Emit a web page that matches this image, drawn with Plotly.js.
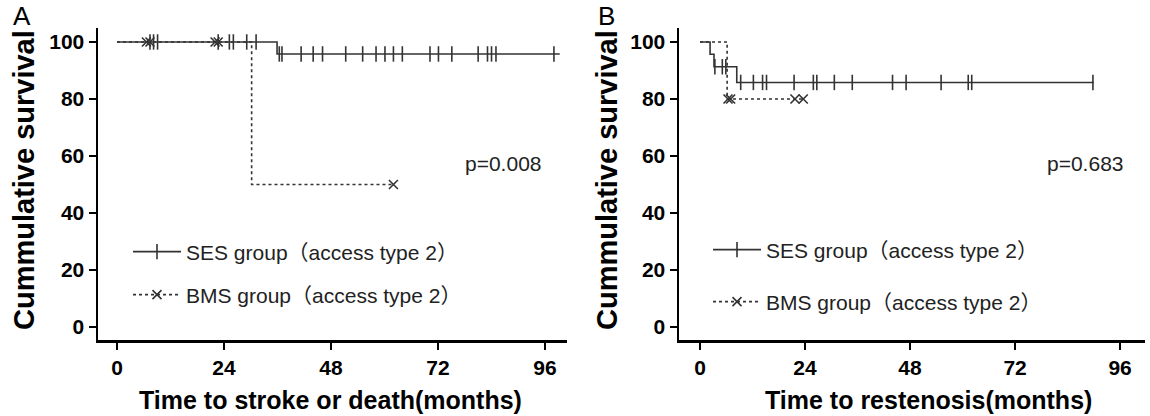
<!DOCTYPE html>
<html>
<head>
<meta charset="utf-8">
<script src="https://cdn.plot.ly/plotly-3.0.1.min.js"></script>
<style>html,body{margin:0;padding:0;background:#fff;}#chart{width:1150px;height:416px;}</style>
</head>
<body>
<div id="chart"></div>
<script>
// ---------- Data ----------
// Panel A: Time to stroke or death (months)
const A_SES_time = [0, 35.9, 99.3];
const A_SES_surv = [100, 95.8, 95.8];
const A_SES_censor_time = [7.4, 8.2, 9.1, 22.7, 25.2, 26.1, 29.1, 31.2,
  36.4, 37.0, 41.3, 44.0, 46.1, 51.3, 55.1, 58.1, 60.1, 62.0, 64.0, 70.2, 72.1, 75.1, 81.0, 83.1, 84.0, 85.0, 98.0];
const A_SES_censor_surv = [100, 100, 100, 100, 100, 100, 100, 100,
  95.8, 95.8, 95.8, 95.8, 95.8, 95.8, 95.8, 95.8, 95.8, 95.8, 95.8, 95.8, 95.8, 95.8, 95.8, 95.8, 95.8, 95.8, 95.8];
const A_BMS_time = [0, 30.2, 62.0];
const A_BMS_surv = [100, 50, 50];
const A_BMS_censor_time = [6.6, 7.4, 22.0, 22.7, 62.0];
const A_BMS_censor_surv = [100, 100, 100, 100, 50];

// Panel B: Time to restenosis (months)
const B_SES_time = [0, 2.3, 3.2, 8.4, 90.0];
const B_SES_surv = [100, 95.7, 91.3, 85.8, 85.8];
const B_SES_censor_time = [3.4, 5.1, 5.9, 9.3, 12.2, 14.3, 15.2, 21.5, 25.9, 26.7, 30.7, 34.8, 44.0, 47.1, 55.1, 61.3, 62.1, 89.8];
const B_SES_censor_surv = [91.3, 91.3, 91.3, 85.8, 85.8, 85.8, 85.8, 85.8, 85.8, 85.8, 85.8, 85.8, 85.8, 85.8, 85.8, 85.8, 85.8, 85.8];
const B_BMS_time = [0, 6.2, 23.6];
const B_BMS_surv = [100, 80, 80];
const B_BMS_censor_time = [6.4, 7.0, 21.7, 23.6];
const B_BMS_censor_surv = [80, 80, 80, 80];

const xTicks = [0, 24, 48, 72, 96];
const yTicks = [0, 20, 40, 60, 80, 100];
const sesName = 'SES group（access type 2）';
const bmsName = 'BMS group（access type 2）';
const pA = 'p=0.008';
const pB = 'p=0.683';

// ---------- Styling ----------
const W = 1150, H = 416;
const FONT = 'Arial, "Liberation Sans", "Noto Sans CJK SC", sans-serif';
const curveColor = '#333333';
const px = v => v / W;
const py = v => 1 - v / H;

function curve(x, y, xa, ya, dash) {
  return {x, y, xaxis: xa, yaxis: ya, type: 'scatter', mode: 'lines',
    line: {shape: 'hv', color: curveColor, width: 1.6, dash: dash},
    showlegend: false, hoverinfo: 'skip'};
}
function censors(x, y, xa, ya, sym, size) {
  return {x, y, xaxis: xa, yaxis: ya, type: 'scatter', mode: 'markers',
    marker: {symbol: sym, size: size, color: curveColor, line: {color: curveColor, width: 1.6}},
    showlegend: false, hoverinfo: 'skip'};
}
function legendItem(name, legendId, dash, sym, size, xa, ya) {
  return {x: [null], y: [null], xaxis: xa, yaxis: ya, type: 'scatter', mode: 'lines+markers', name: name,
    legend: legendId,
    line: {color: curveColor, width: 1.6, dash: dash},
    marker: {symbol: sym, size: size, color: curveColor, line: {color: curveColor, width: 1.6}}};
}

const data = [
  curve(A_SES_time, A_SES_surv, 'x', 'y', 'solid'),
  curve(A_BMS_time, A_BMS_surv, 'x', 'y', 'dot'),
  censors(A_SES_censor_time, A_SES_censor_surv, 'x', 'y', 'line-ns-open', 11),
  censors(A_BMS_censor_time, A_BMS_censor_surv, 'x', 'y', 'x-thin-open', 9),
  legendItem(sesName, 'legend', 'solid', 'line-ns-open', 11, 'x', 'y'),
  legendItem(bmsName, 'legend2', 'dot', 'x-thin-open', 9, 'x', 'y'),
  curve(B_SES_time, B_SES_surv, 'x2', 'y2', 'solid'),
  curve(B_BMS_time, B_BMS_surv, 'x2', 'y2', 'dot'),
  censors(B_SES_censor_time, B_SES_censor_surv, 'x2', 'y2', 'line-ns-open', 11),
  censors(B_BMS_censor_time, B_BMS_censor_surv, 'x2', 'y2', 'x-thin-open', 9),
  legendItem(sesName, 'legend3', 'solid', 'line-ns-open', 11, 'x2', 'y2'),
  legendItem(bmsName, 'legend4', 'dot', 'x-thin-open', 9, 'x2', 'y2')
];

const tickFont = {family: FONT, size: 21, color: '#000', weight: 'bold'};
function xAxis(domain, range) {
  return {domain, range, tickvals: xTicks, ticktext: xTicks.map(String), ticks: 'outside', ticklen: 7, tickwidth: 2.5,
    tickcolor: '#000', showline: true, linecolor: '#000', linewidth: 2.5, showgrid: false, zeroline: false,
    tickfont: tickFont, fixedrange: true};
}
function yAxis(domain, range, anchor) {
  return {domain, range, anchor, tickvals: yTicks, ticktext: yTicks.map(String), ticks: 'outside', ticklen: 7, tickwidth: 2.5,
    tickcolor: '#000', showline: true, linecolor: '#000', linewidth: 2.5, showgrid: false, zeroline: false,
    tickfont: tickFont, fixedrange: true};
}
const yDom = [1 - 340 / H, 1 - 28 / H];
const yRange = [-4.56, 104.9];

function leg(xLeft, yMid) {
  return {x: px(xLeft), y: py(yMid), xanchor: 'left', yanchor: 'middle', xref: 'paper', yref: 'paper',
    bgcolor: 'rgba(0,0,0,0)', borderwidth: 0, itemwidth: 48,
    font: {family: FONT, size: 21, color: '#222'}};
}

function ann(text, x, y, opts) {
  return Object.assign({text, x: px(x), y: py(y), xref: 'paper', yref: 'paper', showarrow: false,
    xanchor: 'center', yanchor: 'middle', font: {family: FONT, size: 21, color: '#222'}}, opts || {});
}
const titleFontX = {family: FONT, size: 25, color: '#000', weight: 'bold'};
const titleFontY = {family: FONT, size: 29, color: '#000', weight: 'bold'};
const panelFont = {family: FONT, size: 26, color: '#000'};

const layout = {
  width: W, height: H,
  margin: {l: 0, r: 0, t: 0, b: 0},
  paper_bgcolor: '#fff', plot_bgcolor: '#fff',
  font: {family: FONT},
  xaxis: xAxis([98 / W, 567 / W], [-4.26, 100.93]),
  yaxis: yAxis(yDom, yRange, 'x'),
  xaxis2: xAxis([679 / W, 1145 / W], [-4.8, 101.7]),
  yaxis2: yAxis(yDom, yRange, 'x2'),
  legend: leg(128, 252),
  legend2: leg(128, 295),
  legend3: leg(708, 250),
  legend4: leg(708, 302),
  annotations: [
    ann('A', 22, 16, {font: panelFont}),
    ann('B', 606, 16, {font: panelFont}),
    ann('Cummulative survival', 24, 180, {textangle: -90, font: titleFontY}),
    ann('Cummulative survival', 607, 180, {textangle: -90, font: titleFontY}),
    ann('Time to stroke or death(months)', 330, 400, {font: titleFontX}),
    ann('Time to restenosis(months)', 928, 400, {font: titleFontX}),
    ann(pA, 463, 163, {xanchor: 'left'}),
    ann(pB, 1045, 163, {xanchor: 'left'})
  ]
};

Plotly.newPlot('chart', data, layout, {staticPlot: true, displayModeBar: false});
</script>
</body>
</html>
